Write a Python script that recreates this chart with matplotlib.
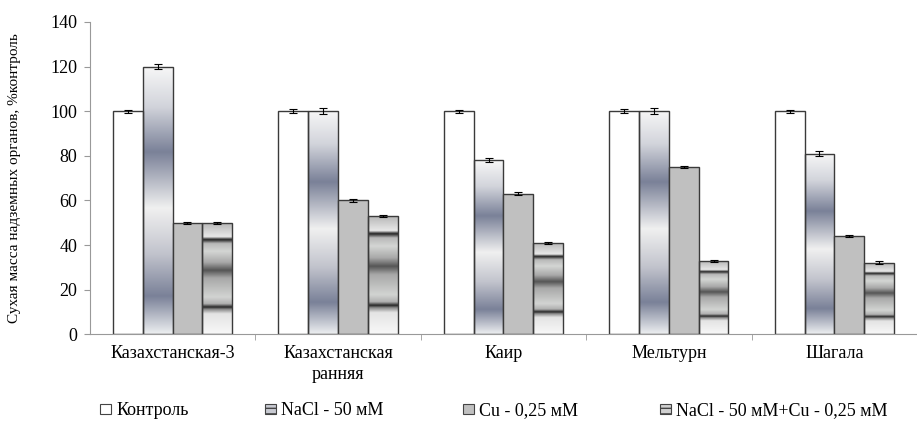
import numpy as np
import matplotlib
matplotlib.use('Agg')
import matplotlib.pyplot as plt
from matplotlib.colors import LinearSegmentedColormap
from matplotlib.patches import Patch

plt.rcParams['font.family'] = ['Liberation Serif', 'DejaVu Serif']

# data
cultivars = ['Казахстанская-3', 'Казахстанская\nранняя', 'Каир', 'Мельтурн', 'Шагала']
treatments = ['Контроль', 'NaCl - 50 мМ', 'Cu - 0,25 мМ', 'NaCl - 50 мМ+Cu - 0,25 мМ']
control = [100, 100, 100, 100, 100]
nacl = [120, 100, 78, 100, 81]
cu = [50, 60, 63, 75, 44]
nacl_cu = [50, 53, 41, 33, 32]
err_control = [0.7, 1.0, 0.6, 0.8, 0.6]
err_nacl = [1.0, 1.2, 1.0, 1.2, 1.0]
err_cu = [0.5, 0.5, 0.6, 0.5, 0.5]
err_nacl_cu = [0.5, 0.4, 0.4, 0.4, 0.7]

series = [control, nacl, cu, nacl_cu]
errors = [err_control, err_nacl, err_cu, err_nacl_cu]

# gradient fills that imitate the Excel textures
cm_nacl = LinearSegmentedColormap.from_list('nacl', [
    (0.0, '#eceef0'), (0.14, '#7a8198'), (0.30, '#c2c4cd'), (0.47, '#f0f0f0'),
    (0.68, '#7a8198'), (0.85, '#d2d4db'), (1.0, '#f7f7f7')])
cm_mix = LinearSegmentedColormap.from_list('mix', [
    (0.0, '#f8f8f8'), (0.18, '#e4e4e4'), (0.22, '#8a8a8a'), (0.24, '#262626'),
    (0.27, '#b0b0b0'), (0.33, '#d2d4d2'), (0.50, '#a8a8a8'), (0.57, '#555555'),
    (0.64, '#a8a8a8'), (0.74, '#d4d6d4'), (0.81, '#b8b8b8'), (0.845, '#202020'),
    (0.87, '#e8e8e8'), (0.93, '#d0d0d0'), (1.0, '#b4b4b4')])

fig = plt.figure(figsize=(9.17, 4.22), dpi=100)
ax = fig.add_axes([0.098, 0.208, 0.902, 0.74])

x = np.arange(len(cultivars))
w = 0.18
faces = ['white', 'none', '#c0c0c0', 'none']
for i, (vals, errs) in enumerate(zip(series, errors)):
    pos = x + (i - 1.5) * w
    bars = ax.bar(pos, vals, w, color=faces[i], edgecolor='#3a3a3a', linewidth=1.0, zorder=2)
    if i in (1, 3):
        cmap = cm_nacl if i == 1 else cm_mix
        grad = np.linspace(1, 0, 256).reshape(-1, 1)
        for b in bars:
            x0, y0 = b.get_x(), b.get_y()
            x1, y1 = x0 + b.get_width(), y0 + b.get_height()
            im = ax.imshow(grad, cmap=cmap, extent=[x0, x1, y0, y1], aspect='auto',
                           interpolation='bilinear', zorder=1.5)
            im.set_clip_path(b)
    ax.errorbar(pos, vals, yerr=errs, fmt='none', ecolor='black', elinewidth=0.8,
                capsize=3, capthick=0.8, zorder=3)

ax.set_xlim(-0.5, len(cultivars) - 0.5)
ax.set_ylim(0, 140)
ax.set_yticks(range(0, 141, 20))
ax.set_xticks(x)
ax.set_xticklabels(cultivars, fontsize=13, linespacing=1.3)
ax.set_xticks(np.arange(0.5, len(cultivars) - 0.5, 1), minor=True)
ax.tick_params(axis='x', which='major', length=0, pad=8)
ax.tick_params(axis='x', which='minor', length=4, color='#999999')
ax.tick_params(axis='y', labelsize=13, length=4, color='#999999', direction='out', pad=5)
for s in ('top', 'right'):
    ax.spines[s].set_visible(False)
for s in ('left', 'bottom'):
    ax.spines[s].set_color('#999999')
ax.set_ylabel('Сухая масса надземных органов, %контроль', fontsize=11)
ax.yaxis.set_label_coords(-0.083, 0.5)

handles = [
    Patch(facecolor='white', edgecolor='#444444', linewidth=0.8),
    Patch(facecolor='#c8cad2', edgecolor='#444444', linewidth=0.8, hatch='---'),
    Patch(facecolor='#c0c0c0', edgecolor='#444444', linewidth=0.8),
    Patch(facecolor='#d0d0d0', edgecolor='#444444', linewidth=0.8, hatch='---'),
]
legend_x = [0.109, 0.289, 0.505, 0.720]
for h, lab, lx in zip(handles, treatments, legend_x):
    fig.legend([h], [lab], loc='center left', bbox_to_anchor=(lx, 0.027), frameon=False,
               fontsize=13, handlelength=0.6, handleheight=0.5, handletextpad=0.3,
               borderpad=0, borderaxespad=0)

fig.savefig('out.png', dpi=100)
